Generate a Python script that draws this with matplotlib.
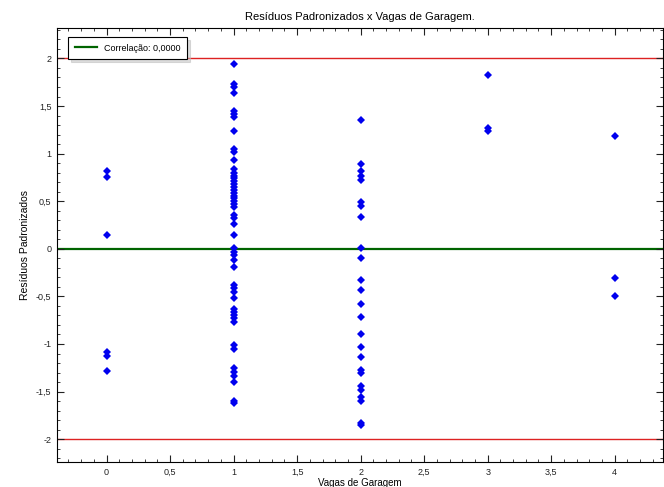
import matplotlib
matplotlib.use("Agg")
import matplotlib.pyplot as plt
from matplotlib.ticker import MultipleLocator, FuncFormatter

plt.rcParams['font.family'] = ['Liberation Sans', 'DejaVu Sans']

x_vals = [0, 1, 2, 3, 4]
res_0 = [0.82, 0.75, 0.15, -1.08, -1.13, -1.28]
res_1 = [1.94, 1.73, 1.70, 1.64, 1.45, 1.42, 1.39, 1.24, 1.05, 1.02, 0.93,
         0.84, 0.80, 0.77, 0.74, 0.71, 0.68, 0.65, 0.62, 0.59, 0.56, 0.53,
         0.50, 0.47, 0.44, 0.35, 0.32, 0.26, 0.15, 0.01, -0.03, -0.07, -0.12,
         -0.19, -0.38, -0.41, -0.45, -0.52, -0.63, -0.66, -0.70, -0.73, -0.77,
         -1.01, -1.05, -1.25, -1.29, -1.34, -1.40, -1.60, -1.62]
res_2 = [1.35, 0.89, 0.82, 0.76, 0.72, 0.49, 0.45, 0.33, 0.01, -0.10, -0.33,
         -0.43, -0.58, -0.72, -0.89, -1.03, -1.14, -1.27, -1.30, -1.44, -1.48,
         -1.56, -1.60, -1.83, -1.85]
res_3 = [1.83, 1.27, 1.24]
res_4 = [1.19, -0.31, -0.50]
residuals = [res_0, res_1, res_2, res_3, res_4]

limits = [-2, 2]
correlation = 0.0

fig = plt.figure(figsize=(6.64, 4.87), dpi=100)
ax = fig.add_axes([57/664, 25/487, 606/664, 434/487])

for xv, ys in zip(x_vals, residuals):
    ax.plot([xv]*len(ys), ys, linestyle='none', marker='D', color='#0000ee',
            markersize=4.2, markeredgewidth=0)

for l in limits:
    ax.axhline(l, color='#dd2222', lw=1.0, zorder=1)
ax.axhline(0, color='#006400', lw=1.6, zorder=1,
           label='Correlação: ' + f'{correlation:.4f}'.replace('.', ','))

ax.set_xlim(-0.39, 4.38)
ax.set_ylim(-2.24, 2.32)

fmt = FuncFormatter(lambda v, p: (f'{v:g}').replace('.', ','))
ax.xaxis.set_major_locator(MultipleLocator(0.5))
ax.xaxis.set_minor_locator(MultipleLocator(0.1))
ax.yaxis.set_major_locator(MultipleLocator(0.5))
ax.yaxis.set_minor_locator(MultipleLocator(0.1))
ax.xaxis.set_major_formatter(fmt)
ax.yaxis.set_major_formatter(fmt)
ax.tick_params(which='both', direction='in', top=True, right=True,
               labelsize=6.5, colors='#222222')
ax.tick_params(which='major', length=5, pad=4)
ax.tick_params(which='minor', length=2.5)

ax.set_title('Resíduos Padronizados x Vagas de Garagem.', fontsize=8, pad=6)
ax.set_xlabel('Vagas de Garagem', fontsize=7, labelpad=1)
ax.set_ylabel('Resíduos Padronizados', fontsize=7.5, labelpad=4)

leg = ax.legend(loc='upper left', fontsize=6.5, frameon=True, fancybox=False,
                shadow={'color': '#bbbbbb'}, handlelength=2.4, borderpad=0.75,
                bbox_to_anchor=(0.011, 0.99))
leg.get_frame().set_edgecolor('black')
leg.get_frame().set_linewidth(0.8)

fig.savefig('out.png', dpi=100)
